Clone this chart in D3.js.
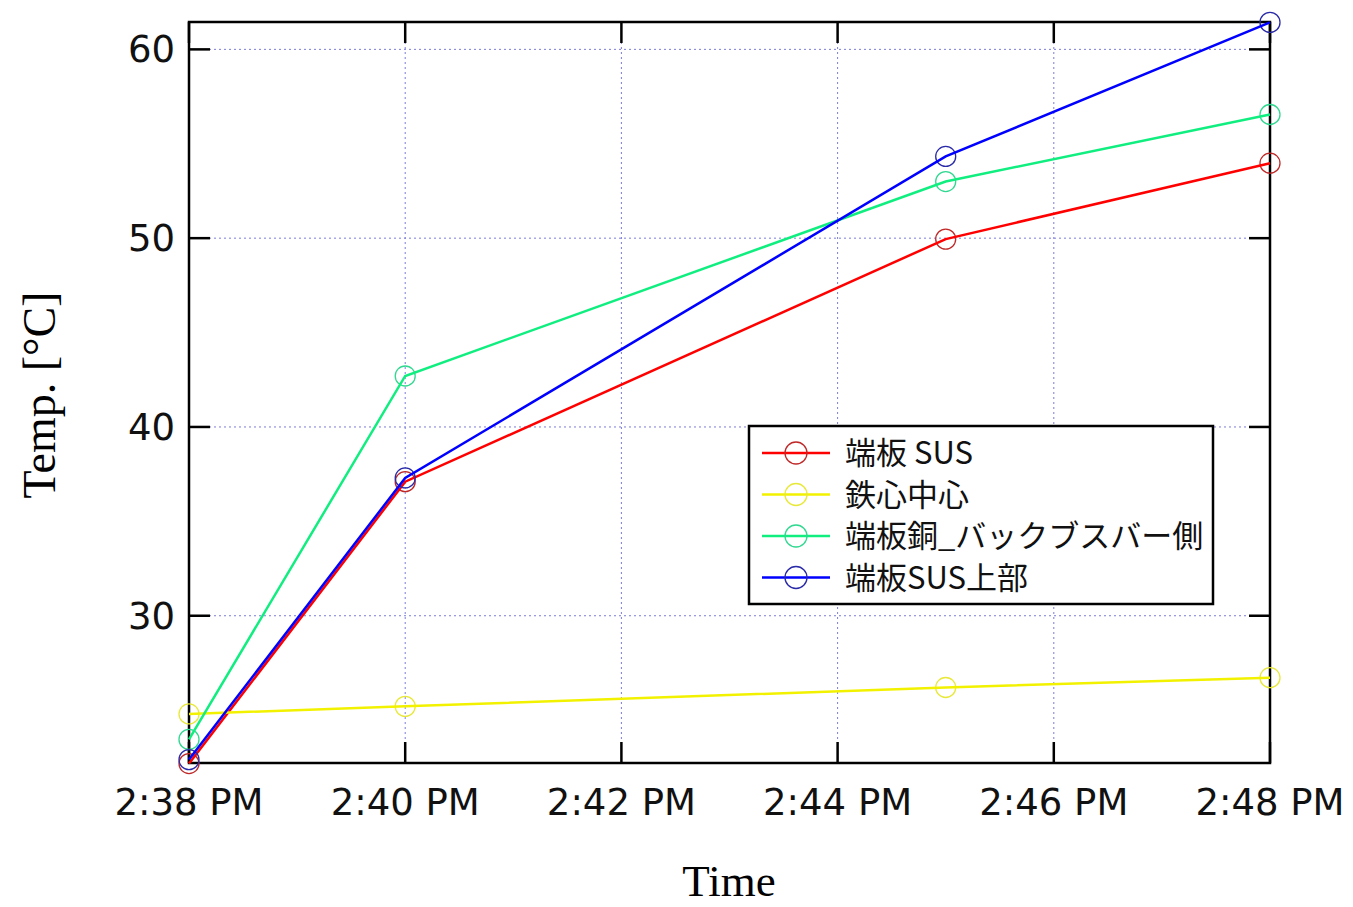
<!DOCTYPE html>
<html>
<head>
<meta charset="utf-8">
<script src="https://cdn.jsdelivr.net/npm/d3@7"></script>
<style>
  html, body { margin: 0; padding: 0; background: #fff; }
  svg { display: block; }
</style>
</head>
<body>
<div id="chart"></div>
<script>
// measurement times (minutes after 14:00) and temperatures
const times = ['14:38', '14:40', '14:45', '14:48'];
const seriesNames = ['端板 SUS', '鉄心中心', '端板銅_バックブスバー側', '端板SUS上部'];
const tempSus = [22.17, 37.1, 49.95, 53.97];
const tempCore = [24.8, 25.2, 26.2, 26.72];
const tempCopper = [23.45, 42.7, 53.0, 56.55];
const tempSusTop = [22.38, 37.3, 54.33, 61.43];
const yTicks = [30, 40, 50, 60];
const xTickTimes = ['14:38', '14:40', '14:42', '14:44', '14:46', '14:48'];

const lineColors = ['#ff0000', '#f2f200', '#11ee80', '#0000ff'];
const markerColors = ['#c02828', '#e8e83a', '#30d890', '#2a2aa8'];

const width = 1353, height = 907;
const margin = { left: 189, top: 22, right: 1270, bottom: 763 };

const parseT = d3.timeParse('%H:%M');
const fmt = d3.timeFormat('%-I:%M %p');

const svg = d3.select('#chart').append('svg')
  .attr('width', width)
  .attr('height', height);

const x = d3.scaleTime()
  .domain([parseT('14:38'), parseT('14:48')])
  .range([margin.left, margin.right]);

const y = d3.scaleLinear()
  .domain([22.2, 61.45])
  .range([margin.bottom, margin.top]);

const xTicks = xTickTimes.map(parseT);

// grid
const grid = svg.append('g')
  .attr('stroke', '#7c7cd8')
  .attr('stroke-width', 1)
  .attr('stroke-dasharray', '2,3');

grid.selectAll('line.v')
  .data(xTicks.slice(1, -1))
  .enter().append('line')
  .attr('x1', d => x(d)).attr('x2', d => x(d))
  .attr('y1', margin.top).attr('y2', margin.bottom);

grid.selectAll('line.h')
  .data(yTicks)
  .enter().append('line')
  .attr('y1', d => y(d)).attr('y2', d => y(d))
  .attr('x1', margin.left).attr('x2', margin.right);

// ticks (inward, on all four sides)
const tickLen = 21;
const ticks = svg.append('g').attr('stroke', '#000').attr('stroke-width', 2.5);
xTicks.forEach(t => {
  ticks.append('line').attr('x1', x(t)).attr('x2', x(t))
    .attr('y1', margin.bottom).attr('y2', margin.bottom - tickLen);
  ticks.append('line').attr('x1', x(t)).attr('x2', x(t))
    .attr('y1', margin.top).attr('y2', margin.top + tickLen);
});
yTicks.forEach(v => {
  ticks.append('line').attr('y1', y(v)).attr('y2', y(v))
    .attr('x1', margin.left).attr('x2', margin.left + tickLen);
  ticks.append('line').attr('y1', y(v)).attr('y2', y(v))
    .attr('x1', margin.right).attr('x2', margin.right - tickLen);
});

// frame
svg.append('rect')
  .attr('x', margin.left).attr('y', margin.top)
  .attr('width', margin.right - margin.left)
  .attr('height', margin.bottom - margin.top)
  .attr('fill', 'none')
  .attr('stroke', '#000')
  .attr('stroke-width', 2.5);

// tick labels
svg.append('g')
  .attr('font-family', 'DejaVu Sans, sans-serif')
  .attr('font-size', 37)
  .attr('fill', '#111')
  .selectAll('text')
  .data(xTicks)
  .enter().append('text')
  .attr('x', d => x(d))
  .attr('y', 815)
  .attr('text-anchor', 'middle')
  .text(d => fmt(d));

svg.append('g')
  .attr('font-family', 'DejaVu Sans, sans-serif')
  .attr('font-size', 37)
  .attr('fill', '#111')
  .selectAll('text')
  .data(yTicks)
  .enter().append('text')
  .attr('x', 175)
  .attr('y', d => y(d) + 13)
  .attr('text-anchor', 'end')
  .text(d => d);

// axis titles
svg.append('text')
  .attr('x', 729).attr('y', 896)
  .attr('text-anchor', 'middle')
  .attr('font-family', 'Liberation Serif, Times New Roman, serif')
  .attr('font-size', 45)
  .text('Time');

svg.append('text')
  .attr('transform', 'translate(55,395) rotate(-90)')
  .attr('text-anchor', 'middle')
  .attr('font-family', 'Liberation Serif, Times New Roman, serif')
  .attr('font-size', 46)
  .text('Temp. [°C]');

// series
const allSeries = [tempSus, tempCore, tempCopper, tempSusTop];
const line = d3.line()
  .x((d, i) => x(parseT(times[i])))
  .y(d => y(d));

allSeries.forEach((vals, s) => {
  const g = svg.append('g');
  g.selectAll('circle')
    .data(vals)
    .enter().append('circle')
    .attr('cx', (d, i) => x(parseT(times[i])))
    .attr('cy', d => y(d))
    .attr('r', 10)
    .attr('fill', 'none')
    .attr('stroke', markerColors[s])
    .attr('stroke-width', 1.3);
  g.append('path')
    .datum(vals)
    .attr('d', line)
    .attr('fill', 'none')
    .attr('stroke', lineColors[s])
    .attr('stroke-width', 2.5);
});

// legend
const legend = svg.append('g');
legend.append('rect')
  .attr('x', 749).attr('y', 426)
  .attr('width', 464).attr('height', 178)
  .attr('fill', '#fff')
  .attr('stroke', '#000')
  .attr('stroke-width', 2.5);

seriesNames.forEach((name, s) => {
  const ly = 453 + s * 41.5;
  legend.append('line')
    .attr('x1', 762).attr('x2', 830)
    .attr('y1', ly).attr('y2', ly)
    .attr('stroke', lineColors[s])
    .attr('stroke-width', 2.5);
  legend.append('circle')
    .attr('cx', 796).attr('cy', ly).attr('r', 11)
    .attr('fill', 'none')
    .attr('stroke', markerColors[s])
    .attr('stroke-width', 1.3);
  legend.append('text')
    .attr('x', 845).attr('y', ly + 11)
    .attr('font-family', 'Noto Sans CJK JP, sans-serif')
    .attr('font-size', 31)
    .attr('fill', '#111')
    .text(name);
});
</script>
</body>
</html>
